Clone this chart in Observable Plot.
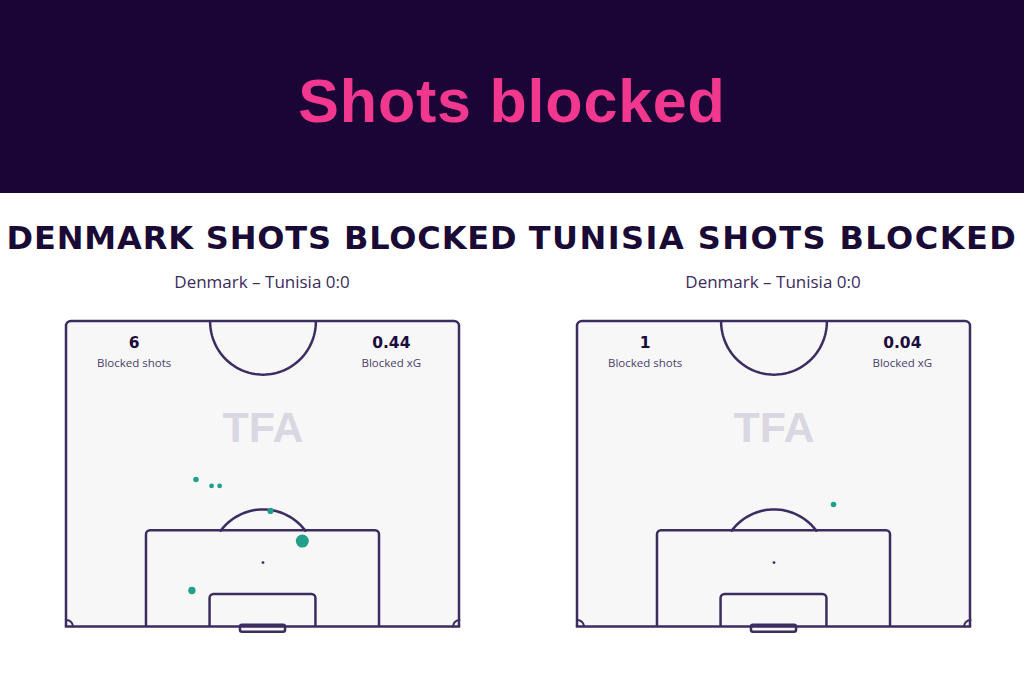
<!DOCTYPE html>
<html><head><meta charset="utf-8">
<script src="https://cdn.jsdelivr.net/npm/d3@7"></script>
<script src="https://cdn.jsdelivr.net/npm/@observablehq/plot@0.6"></script>
<style>
body{margin:0;background:#fff;}
#page{position:relative;width:1024px;height:683px;overflow:hidden;background:#fff;}
#header{position:absolute;left:0;top:0;width:1024px;height:193px;background:#1b0536;}
#main-title{position:absolute;left:0;width:1024px;top:66px;text-align:center;color:#f2378e;font-family:"Liberation Sans",Arial,sans-serif;font-weight:bold;font-size:61px;line-height:70px;letter-spacing:0.8px;}
.team-title{position:absolute;width:600px;text-align:center;font-family:"DejaVu Sans",sans-serif;font-weight:bold;font-size:32px;line-height:36px;color:#1a0a36;white-space:nowrap;}
.match{position:absolute;width:400px;text-align:center;font-family:"Open Sans",sans-serif;font-size:17px;line-height:20px;color:#3a2b5c;white-space:nowrap;}
</style></head>
<body>
<div id="page">
  <div id="header"><div id="main-title">Shots blocked</div></div>
</div>
<script>
// ---- data ----
const teams = ["DENMARK", "TUNISIA"];
const matchLabel = "Denmark – Tunisia 0:0";
const blockedShots = [6, 1];
const blockedXG = [0.44, 0.04];
const statLabels = ["Blocked shots", "Blocked xG"];

const denmarkX  = [22.4, 25.1, 26.5, 35.3, 40.8, 21.7];
const denmarkY  = [25.3, 24.2, 24.2, 19.9, 14.7, 6.2];
const denmarkXG = [0.04, 0.03, 0.03, 0.05, 0.22, 0.07];

const tunisiaX  = [44.3];
const tunisiaY  = [21.0];
const tunisiaXG = [0.04];

// pitch dimensions (metres)
const pitchW = 68, halfL = 52.5, boxW = 40.32, boxD = 16.5, sixW = 18.32, sixD = 5.5;
const goalW = 7.8, goalD = 1, circleR = 9.15, spotD = 11, cornerR = 1.1;

// ---- styles ----
const LINE = "#3d2c60", BG = "#f7f7f8", DOT = "#22a08b";

function arc(cx, cy, r, a0, a1) {
  return d3.range(0, 61).map(i => {
    const a = (a0 + (a1 - a0) * i / 60) * Math.PI / 180;
    return {x: cx + r * Math.cos(a), y: cy + r * Math.sin(a)};
  });
}

function pitch(xs, ys, xgs, nShots, xgTotal) {
  const shots = xs.map((x, i) => ({x, y: ys[i], xg: xgs[i]}));
  const cx = pitchW / 2;
  const arcA = Math.asin((boxD - spotD) / circleR) * 180 / Math.PI;
  const ls = {stroke: LINE, strokeWidth: 2.5};
  return Plot.plot({
    width: 512, height: 340,
    marginLeft: 66, marginRight: 53, marginTop: 21, marginBottom: 14,
    x: {domain: [0, pitchW], axis: null},
    y: {domain: [0, halfL], axis: null},
    r: {type: "sqrt", domain: [0, 0.22], range: [0, 6.5]},
    style: {background: "transparent", overflow: "visible"},
    marks: [
      Plot.rect([{x1: 0, x2: pitchW, y1: -1.5, y2: halfL}], {x1: "x1", x2: "x2", y1: "y1", y2: "y2", fill: BG, rx: 5, ...ls}),
      Plot.text([{x: cx, y: 34.1}], {x: "x", y: "y", text: () => "TFA", fill: "#d9d7e2", fontSize: 43, fontWeight: 900, fontFamily: "Liberation Sans, Arial, sans-serif"}),
      Plot.line(arc(cx, halfL, circleR, 180, 360), {x: "x", y: "y", ...ls}),
      Plot.line(arc(cx, spotD, circleR, arcA, 180 - arcA), {x: "x", y: "y", ...ls}),
      Plot.rect([{x1: cx - boxW / 2, x2: cx + boxW / 2, y1: -1.5, y2: boxD}], {x1: "x1", x2: "x2", y1: "y1", y2: "y2", fill: "none", rx: 4, ...ls}),
      Plot.rect([{x1: cx - sixW / 2, x2: cx + sixW / 2, y1: -1.5, y2: sixD}], {x1: "x1", x2: "x2", y1: "y1", y2: "y2", fill: "none", rx: 4, ...ls}),
      Plot.rect([{x1: -4, x2: pitchW + 4, y1: -3, y2: 0}], {x1: "x1", x2: "x2", y1: "y1", y2: "y2", fill: "#ffffff"}),
      Plot.rect([{x1: cx - goalW / 2, x2: cx + goalW / 2, y1: -goalD, y2: 0.2}], {x1: "x1", x2: "x2", y1: "y1", y2: "y2", fill: BG, rx: 2, ...ls}),
      Plot.ruleY([{y: 0, x1: 0, x2: pitchW}], {y: "y", x1: "x1", x2: "x2", strokeLinecap: "square", ...ls}),
      Plot.line(arc(0, 0, cornerR, 0, 90), {x: "x", y: "y", ...ls, strokeWidth: 2}),
      Plot.line(arc(pitchW, 0, cornerR, 90, 180), {x: "x", y: "y", ...ls, strokeWidth: 2}),
      Plot.dot([{x: cx, y: spotD}], {x: "x", y: "y", r: 1.4, fill: LINE}),
      Plot.text([{x: 11.7, y: 48.8, t: String(nShots)}, {x: 56.2, y: 48.8, t: xgTotal.toFixed(2)}],
        {x: "x", y: "y", text: "t", fill: "#1c0c3c", fontSize: 15.5, fontWeight: "bold", fontFamily: "DejaVu Sans, sans-serif"}),
      Plot.text([{x: 11.7, y: 45.3, t: statLabels[0]}, {x: 56.2, y: 45.3, t: statLabels[1]}],
        {x: "x", y: "y", text: "t", fill: "#4a3d6b", fontSize: 11.5, fontFamily: "Open Sans, sans-serif"}),
      Plot.dot(shots, {x: "x", y: "y", r: "xg", fill: DOT})
    ]
  });
}

const page = document.getElementById("page");
const colLeft = [0, 511];
const centers = [262, 773];
const spacing = ["0.85px", "1.45px"];
const data = [[denmarkX, denmarkY, denmarkXG], [tunisiaX, tunisiaY, tunisiaXG]];
teams.forEach((t, i) => {
  const title = document.createElement("div");
  title.className = "team-title";
  title.textContent = t + " SHOTS BLOCKED";
  title.style.left = (centers[i] - 300) + "px";
  title.style.top = "220px";
  title.style.letterSpacing = spacing[i];
  page.appendChild(title);
  const m = document.createElement("div");
  m.className = "match";
  m.textContent = matchLabel;
  m.style.left = (centers[i] - 200) + "px";
  m.style.top = "272px";
  page.appendChild(m);
  const p = pitch(data[i][0], data[i][1], data[i][2], blockedShots[i], blockedXG[i]);
  p.style.position = "absolute";
  p.style.left = colLeft[i] + "px";
  p.style.top = "300px";
  page.appendChild(p);
});
</script>
</body></html>
